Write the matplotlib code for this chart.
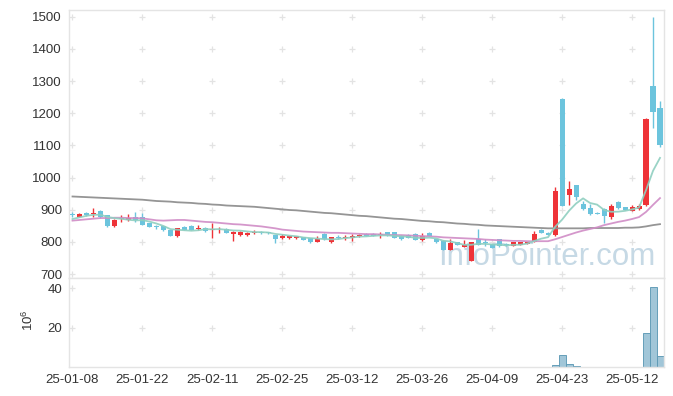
import matplotlib
matplotlib.use("Agg")
import matplotlib.pyplot as plt
import numpy as np
import pandas as pd

plt.rcParams['font.family'] = ['Liberation Sans', 'DejaVu Sans']
plt.rcParams['mathtext.default'] = 'regular'

dates = (["25-01-%02d" % d for d in [8, 9, 10, 13, 14, 15, 16, 17, 20, 21, 22, 23, 24, 31]] +
         ["25-02-%02d" % d for d in [3, 4, 5, 6, 7, 10, 11, 12, 13, 14, 17, 18, 19, 20, 21, 24, 25, 26, 27, 28]] +
         ["25-03-%02d" % d for d in [4, 5, 6, 7, 10, 11, 12, 13, 14, 17, 18, 19, 20, 21, 24, 25, 26, 27, 28, 31]] +
         ["25-04-%02d" % d for d in [1, 2, 3, 4, 7, 8, 9, 10, 11, 14, 15, 16, 17, 18, 21, 22, 23, 24, 25, 28, 29, 30]] +
         ["25-05-%02d" % d for d in [2, 7, 8, 9, 12, 13, 14, 15, 16]])

opens = [886, 877, 891, 886, 895, 882, 848, 872, 868, 878, 876, 858, 848, 848, 836, 817, 845, 850, 840, 843,
         836, 839, 841, 823, 822, 822, 826, 832, 830, 821, 811, 811, 812, 815, 812, 800, 825, 798, 814, 811,
         811, 817, 825, 825, 820, 831, 831, 819, 822, 825, 805, 829, 809, 804, 776, 798, 785, 740, 809, 800,
         793, 809, 793, 787, 790, 794, 801, 838, 829, 822, 1245, 945, 977, 917, 904, 890, 903, 878, 925, 907,
         897, 903, 915, 1285, 1217]
highs = [893, 891, 892, 905, 898, 884, 870, 882, 886, 893, 890, 859, 851, 849, 837, 844, 848, 851, 852, 846,
         858, 846, 842, 834, 833, 832, 837, 833, 831, 822, 825, 818, 818, 816, 813, 817, 826, 815, 820, 822,
         825, 825, 826, 826, 831, 832, 832, 820, 823, 826, 828, 830, 810, 805, 808, 799, 806, 800, 840, 808,
         794, 810, 796, 799, 799, 801, 835, 839, 830, 970, 1248, 990, 978, 927, 917, 894, 904, 918, 926, 908,
         915, 918, 1185, 1500, 1237]
lows = [876, 876, 880, 876, 875, 847, 847, 862, 866, 862, 852, 845, 840, 834, 817, 816, 836, 837, 836, 832,
        812, 826, 826, 804, 818, 818, 824, 825, 824, 797, 810, 810, 810, 806, 795, 799, 806, 797, 809, 806,
        804, 814, 817, 818, 813, 818, 812, 806, 812, 806, 804, 817, 797, 775, 774, 789, 784, 739, 790, 788,
        780, 785, 788, 786, 789, 793, 800, 827, 820, 818, 910, 915, 930, 900, 885, 886, 858, 871, 903, 898,
        896, 900, 912, 1155, 1095]
closes = [883, 888, 885, 889, 877, 848, 869, 875, 874, 867, 853, 846, 845, 836, 818, 843, 838, 838, 843, 835,
          841, 841, 828, 832, 832, 829, 831, 827, 826, 810, 817, 817, 817, 807, 800, 810, 808, 814, 811, 816,
          819, 821, 818, 819, 823, 820, 813, 810, 813, 807, 817, 818, 799, 776, 797, 791, 791, 799, 791, 796,
          782, 786, 791, 798, 798, 800, 825, 828, 822, 958, 912, 964, 940, 902, 886, 887, 881, 911, 904, 899,
          909, 910, 1181, 1205, 1100]
volumes = [0.1, 0.08, 0.08, 0.1, 0.08, 0.12, 0.1, 0.08, 0.08, 0.08, 0.1, 0.08, 0.08, 0.08, 0.1, 0.1, 0.08,
           0.08, 0.08, 0.08, 0.1, 0.08, 0.08, 0.1, 0.08, 0.08, 0.08, 0.08, 0.08, 0.1, 0.08, 0.08, 0.08, 0.08,
           0.08, 0.08, 0.08, 0.08, 0.08, 0.08, 0.08, 0.08, 0.08, 0.08, 0.08, 0.08, 0.08, 0.08, 0.08, 0.08, 0.08,
           0.08, 0.08, 0.1, 0.1, 0.08, 0.08, 0.12, 0.1, 0.08, 0.08, 0.08, 0.08, 0.08, 0.08, 0.08, 0.1, 0.1, 0.08,
           1.1, 6.1, 1.6, 0.65, 0.2, 0.15, 0.1, 0.12, 0.12, 0.1, 0.08, 0.12, 0.12, 17.0, 40.5, 5.6]

# moving averages
ma5_head = [871, 876, 881, 884]
ma20 = [866, 868, 870, 872, 874, 874, 875, 875, 874, 874, 873, 870, 867, 866, 867, 868, 868, 866, 864, 862,
        861, 859, 857, 855, 854, 852, 850, 848, 845, 842, 838, 836, 834, 832, 831, 830, 829, 828, 828, 827,
        826, 825, 824, 824, 823, 822, 821, 821, 820, 819, 818, 817, 816, 814, 813, 812, 811, 810, 809, 807,
        806, 805, 804, 803, 803, 802, 802, 802, 802, 808, 815, 822, 829, 835, 840, 845, 852, 857, 862, 866,
        871, 877, 893, 915, 936]
ma60 = [941, 940, 939, 938, 937, 936, 935, 934, 933, 932, 931, 929, 927, 926, 925, 923, 922, 921, 919, 918,
        916, 915, 913, 912, 911, 910, 909, 907, 905, 903, 901, 899, 898, 896, 894, 892, 890, 889, 887, 885,
        883, 881, 880, 878, 876, 874, 872, 871, 869, 867, 865, 864, 862, 861, 859, 857, 856, 854, 853, 851,
        850, 849, 848, 847, 846, 845, 844, 843, 842, 842, 842, 842, 842, 842, 843, 843, 843, 843, 843, 844,
        844, 845, 848, 852, 855]

price_ticks = [700, 800, 900, 1000, 1100, 1200, 1300, 1400, 1500]
vol_ticks = [20, 40]
tick_step = 10

RED = '#ee3338'
BLUE = '#6cc4dd'
GRID = '#e3e3e3'
SPINE = '#e4e4e4'
TXT = '#333333'

o = np.array(opens, float)
h = np.array(highs, float)
l = np.array(lows, float)
c = np.array(closes, float)
v = np.array(volumes, float)
x = np.arange(len(dates))

ma5 = pd.Series(c).rolling(5).mean().to_numpy()
ma5[:len(ma5_head)] = ma5_head

fig = plt.figure(figsize=(6.73, 3.96), dpi=100)
ax = fig.add_axes([69 / 673, 118 / 396, 594.5 / 673, 268 / 396])
axv = fig.add_axes([69 / 673, 29 / 396, 594.5 / 673, 89 / 396], sharex=ax)

# grid crosses
xt = np.arange(0, len(dates), tick_step)
gx, gy = np.meshgrid(xt, price_ticks)
ax.plot(gx.ravel(), gy.ravel(), '+', color=GRID, ms=5, mew=0.9, zorder=0)
gx2, gy2 = np.meshgrid(xt, vol_ticks)
axv.plot(gx2.ravel(), gy2.ravel(), '+', color=GRID, ms=5, mew=0.9, zorder=0)

# watermark
ax.text(0.803, 0.078, 'InfoPointer.com', transform=ax.transAxes, ha='center', va='center',
        fontsize=22.5, color='#c6d9e5', zorder=0.5)

# candles
up = c >= o
cols = np.where(up, RED, BLUE)
ax.vlines(x, l, h, colors=cols, lw=1.0, zorder=2)
body = np.maximum(np.abs(c - o), 2.0)
ax.bar(x, body, bottom=np.minimum(o, c), width=0.72, color=cols, lw=0, zorder=3)

# moving averages
ax.plot(x, ma60, color='#8f8f8f', lw=1.3, zorder=4, alpha=0.95)
ax.plot(x, ma20, color='#d08cc6', lw=1.3, zorder=4, alpha=0.9)
ax.plot(x, ma5, color='#8fcfc0', lw=1.3, zorder=4, alpha=0.9)

ax.set_xlim(-0.5, len(dates) - 0.5)
ax.set_ylim(687.6, 1520.8)
ax.set_yticks(price_ticks)
ax.set_yticklabels([str(t) for t in price_ticks])
ax.tick_params(axis='y', length=0, labelsize=9.5, colors=TXT, pad=5)
ax.tick_params(axis='x', length=0, labelbottom=False)
for s in ax.spines.values():
    s.set_color(SPINE)
    s.set_linewidth(1.0)

# volume
axv.bar(x, v, width=1.0, color='#9cc3d6', edgecolor='#5f9bb6', lw=0.7, alpha=0.95, zorder=2)
axv.set_ylim(0, 45.1)
axv.set_yticks(vol_ticks)
axv.set_yticklabels([str(t) for t in vol_ticks])
axv.set_xticks(xt)
axv.set_xticklabels([dates[i] for i in xt])
axv.tick_params(axis='both', length=0, labelsize=9.5, colors=TXT)
axv.tick_params(axis='y', pad=5)
axv.tick_params(axis='x', pad=5)
axv.set_ylabel(r'$10^6$', fontsize=9.5, color=TXT)
axv.yaxis.set_label_coords(-0.055, 0.53)
for s in axv.spines.values():
    s.set_color(SPINE)
    s.set_linewidth(1.0)

fig.savefig('out.png', dpi=100)
